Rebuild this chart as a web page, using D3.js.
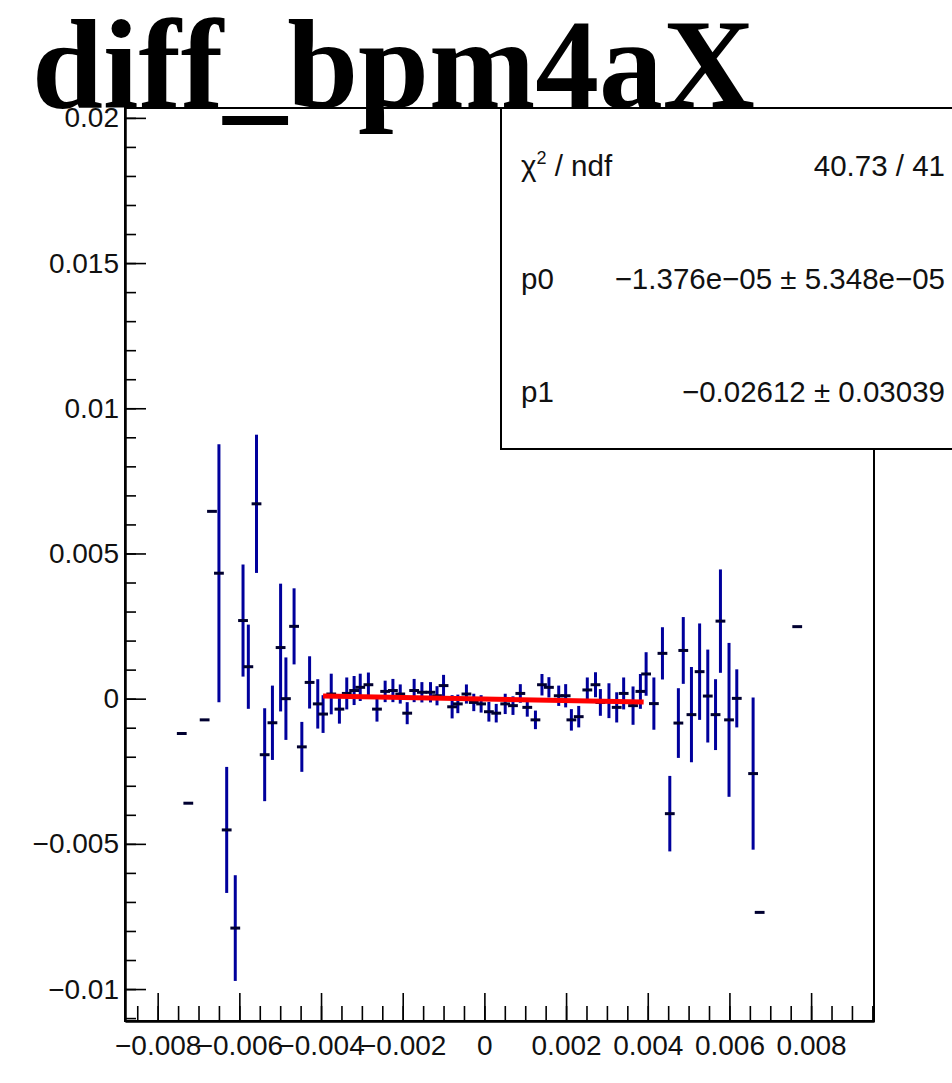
<!DOCTYPE html>
<html><head><meta charset="utf-8">
<script src="https://cdn.jsdelivr.net/npm/d3@7"></script>
<style>body{margin:0;background:#fff}svg{display:block}</style>
</head><body><svg id="c" width="952" height="1083"></svg>
<script>
const titleText = "diff_bpm4aX";
const xValues = [-0.00741,-0.00725,-0.00685,-0.00667,-0.00650,-0.00631,-0.00610,-0.00591,-0.00578,-0.00558,
 -0.00538,-0.00519,-0.00499,-0.00486,-0.00466,-0.00447,-0.00428,-0.00408,-0.00395,-0.00375,
 -0.00355,-0.00337,-0.00319,-0.00304,-0.00284,-0.00263,-0.00243,-0.00224,-0.00206,-0.00189,
 -0.00172,-0.00153,-0.00132,-0.00116,-0.00100,-0.00079,-0.00065,-0.00044,-0.00026,-0.00008,
 0.00011,0.00029,0.00051,0.00070,0.00088,0.00105,0.00125,0.00141,0.00158,0.00182,
 0.00199,0.00213,0.00231,0.00252,0.00272,0.00284,0.00305,0.00324,0.00341,0.00364,
 0.00382,0.00396,0.00415,0.00436,0.00454,0.00475,0.00487,0.00507,0.00527,0.00547,
 0.00566,0.00578,0.00599,0.00618,0.00658,0.00674,0.00766];
const yValues = [-0.00120,-0.00360,-0.00073,0.00645,0.00432,-0.00452,-0.00790,0.00269,0.00110,0.00671,
 -0.00193,-0.00083,0.00176,0.00000,0.00249,-0.00166,0.00056,-0.00018,-0.00053,0.00016,
 -0.00036,0.00018,0.00028,0.00039,0.00048,-0.00036,0.00025,0.00028,0.00016,-0.00050,
 0.00028,0.00022,0.00022,0.00010,0.00045,-0.00028,-0.00018,0.00016,-0.00013,-0.00018,
 -0.00045,-0.00050,-0.00018,-0.00024,0.00018,-0.00030,-0.00073,0.00048,0.00039,0.00010,
 0.00010,-0.00073,-0.00062,0.00030,0.00048,-0.00013,-0.00007,-0.00030,0.00018,-0.00024,
 0.00025,0.00085,-0.00017,0.00156,-0.00396,-0.00084,0.00166,-0.00055,0.00093,0.00009,
 -0.00055,0.00267,-0.00073,0.00001,-0.00258,-0.00736,0.00248];
const yErrors = [0,0,0,0,0.00444,0.00217,0.00182,0.00193,0.00145,0.00238,
 0.00160,0.00128,0.00220,0.00142,0.00131,0.00086,0.00090,0.00085,0.00065,0.00070,
 0.00050,0.00055,0.00050,0.00047,0.00042,0.00043,0.00037,0.00040,0.00033,0.00038,
 0.00040,0.00035,0.00035,0.00033,0.00037,0.00040,0.00032,0.00033,0.00030,0.00030,
 0.00034,0.00032,0.00035,0.00032,0.00032,0.00032,0.00032,0.00037,0.00035,0.00035,
 0.00040,0.00037,0.00037,0.00043,0.00043,0.00046,0.00060,0.00052,0.00055,0.00066,
 0.00060,0.00075,0.00090,0.00090,0.00130,0.00120,0.00115,0.00164,0.00166,0.00160,
 0.00122,0.00178,0.00265,0.00100,0.00262,0,0];
const xErrHalf = 0.00012;
const fitP0 = -1.376e-05, fitP1 = -0.02612;
const fitRange = [-0.00395, 0.0039];
const xTickValues = [-0.008,-0.006,-0.004,-0.002,0,0.002,0.004,0.006,0.008];
const xTickLabels = ["\u22120.008","\u22120.006","\u22120.004","\u22120.002","0","0.002","0.004","0.006","0.008"];
const yTickValues = [-0.01,-0.005,0,0.005,0.01,0.015,0.02];
const yTickLabels = ["\u22120.01","\u22120.005","0","0.005","0.01","0.015","0.02"];
const statsLabels = ["p0","p1"];
const statsValues = ["\u22121.376e\u221205 \u00b1 5.348e\u221205","\u22120.02612 \u00b1 0.03039"];
const chi2Text = "40.73 / 41";

const svg = d3.select("#c");
const L=125, R=874, T=108, B=1021;
const x = d3.scaleLinear().domain([-0.0088, 0.00954]).range([L, R]);
const y = d3.scaleLinear().domain([-0.0111, 0.02034]).range([B, T]);
const font = "'Liberation Sans', Arial, Helvetica, sans-serif";

// frame
svg.append("rect").attr("x",L).attr("y",T).attr("width",R-L).attr("height",B-T)
  .attr("fill","none").attr("stroke","#000").attr("stroke-width",2);

// x axis
const xMinor = d3.range(-0.0085, 0.0095+1e-9, 0.0005).map(v=>+v.toFixed(4));
const gxm = svg.append("g").attr("transform",`translate(0,${B})`)
  .call(d3.axisBottom(x).tickValues(xMinor).tickSize(-15).tickSizeOuter(0).tickFormat(""));
const gx = svg.append("g").attr("transform",`translate(0,${B})`)
  .call(d3.axisBottom(x).tickValues(xTickValues).tickSize(-28).tickSizeOuter(0).tickPadding(14.5)
    .tickFormat((d,i)=>xTickLabels[i]));
// y axis
const yMinor = d3.range(-0.011, 0.0201, 0.001).map(v=>+v.toFixed(3));
const gym = svg.append("g").attr("transform",`translate(${L},0)`)
  .call(d3.axisLeft(y).tickValues(yMinor).tickSize(-11).tickSizeOuter(0).tickFormat(""));
const gy = svg.append("g").attr("transform",`translate(${L},0)`)
  .call(d3.axisLeft(y).tickValues(yTickValues).tickSize(-21).tickSizeOuter(0).tickPadding(6)
    .tickFormat((d,i)=>yTickLabels[i]));
[gxm,gx,gym,gy].forEach(g=>{
  g.select(".domain").attr("stroke","#000").attr("stroke-width",2);
  g.selectAll(".tick line").attr("stroke","#000").attr("stroke-width",1.6);
  g.selectAll("text").attr("font-family",font).attr("font-size",28).attr("fill","#111");
});

// data points
const pts = xValues.map((v,i)=>({x:v,y:yValues[i],e:yErrors[i]}));
const gp = svg.append("g");
gp.selectAll("line.v").data(pts.filter(d=>d.e>0)).join("line").attr("class","v")
  .attr("x1",d=>x(d.x)).attr("x2",d=>x(d.x))
  .attr("y1",d=>y(d.y+d.e)).attr("y2",d=>y(d.y-d.e))
  .attr("stroke","#00009c").attr("stroke-width",3);
gp.selectAll("line.h").data(pts).join("line").attr("class","h")
  .attr("x1",d=>x(d.x-xErrHalf)).attr("x2",d=>x(d.x+xErrHalf))
  .attr("y1",d=>y(d.y)).attr("y2",d=>y(d.y))
  .attr("stroke","#000030").attr("stroke-width",3);

// fit line
const fitLine = d3.line().x(d=>x(d)).y(d=>y(fitP0+fitP1*d));
svg.append("path").attr("d",fitLine(fitRange)).attr("fill","none")
  .attr("stroke","#ff0000").attr("stroke-width",5);

// stats box
const bx=501, by=108, bw=460, bh=341;
svg.append("rect").attr("x",bx).attr("y",by).attr("width",bw).attr("height",bh)
  .attr("fill","#fff").attr("stroke","#000").attr("stroke-width",2);
const sfs = 29.5;
const rowY = [176, 289, 402];
const t0 = svg.append("text").attr("x",521).attr("y",rowY[0]).attr("font-family",font).attr("font-size",sfs).attr("fill","#111");
t0.append("tspan").text("\u03c7");
t0.append("tspan").attr("font-size",18).attr("dy",-12).text("2");
t0.append("tspan").attr("dy",12).text(" / ndf");
svg.append("text").attr("x",945).attr("y",rowY[0]).attr("text-anchor","end")
  .attr("font-family",font).attr("font-size",sfs).attr("fill","#111").text(chi2Text);
statsLabels.forEach((lab,i)=>{
  svg.append("text").attr("x",521).attr("y",rowY[i+1]).attr("font-family",font).attr("font-size",sfs).attr("fill","#111").text(lab);
  svg.append("text").attr("x",945).attr("y",rowY[i+1]).attr("text-anchor","end")
    .attr("font-family",font).attr("font-size",sfs).attr("fill","#111").text(statsValues[i]);
});

// title
svg.append("text").attr("x",32).attr("y",107)
  .attr("font-family","'Liberation Serif','Times New Roman',serif").attr("font-weight","bold")
  .attr("font-size",126).attr("textLength",723).attr("lengthAdjust","spacingAndGlyphs")
  .attr("fill","#000").text(titleText);
</script></body></html>
